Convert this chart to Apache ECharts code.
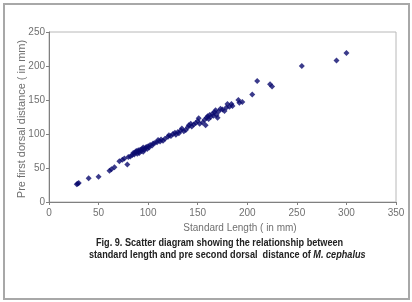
<!DOCTYPE html>
<html><head><meta charset="utf-8">
<script src="https://cdn.jsdelivr.net/npm/echarts@6/dist/echarts.min.js"></script>
<style>html,body{margin:0;padding:0;background:#fff}#c{width:412px;height:302px}</style>
</head><body><div id="c"></div>
<script>
var standardLength = [28,29,30,40,50,61,63,66,71,74,76,79,80,82,84,85,86,87,88,89,90,90,91,92,93,94,95,95,96,97,98,99,100,101,102,104,105,107,109,110,112,113,115,117,120,121,123,125,127,128,130,131,133,134,136,138,140,141,143,144,146,148,150,151,152,155,157,158,159,160,161,162,163,165,166,167,168,169,170,171,173,175,177,179,180,182,184,185,191,192,195,205,210,223,225,255,290,300];
var preDorsal = [26,27,28,35,37,46,48,51,60,62,64,55,66,67,69,72,70,73,75,71,74,76,72,77,75,78,74,80,77,79,81,78,82,80,84,83,86,87,88,91,89,92,90,93,96,98,97,100,102,99,103,101,105,108,104,106,110,113,115,111,114,116,119,123,115,117,121,113,124,126,122,128,125,130,127,132,135,128,124,133,137,136,134,139,144,140,144,141,150,146,147,158,178,173,170,200,208,219];
var xTicks = [0,50,100,150,200,250,300,350];
var yTicks = [0,50,100,150,200,250];

var pts = standardLength.map(function(v,i){return [v, preDorsal[i]];});
var narrow = '"Liberation Sans Narrow","Arial Narrow","Liberation Sans",sans-serif';
var chart = echarts.init(document.getElementById('c'), null, {renderer:'canvas'});
chart.setOption({
  animation:false,
  backgroundColor:'#fff',
  grid:{left:49,right:16,top:32,bottom:100,show:true,borderColor:'#b8b8b8',borderWidth:1,backgroundColor:'transparent'},
  xAxis:{type:'value',min:xTicks[0],max:xTicks[xTicks.length-1],interval:50,
    axisLine:{show:true,lineStyle:{color:'#808080',width:1}},
    axisTick:{show:true,inside:false,length:3,lineStyle:{color:'#808080'}},
    splitLine:{show:false},
    axisLabel:{color:'#707070',fontFamily:narrow,fontSize:10,margin:6}},
  yAxis:{type:'value',min:yTicks[0],max:yTicks[yTicks.length-1],interval:50,
    axisLine:{show:true,lineStyle:{color:'#808080',width:1}},
    axisTick:{show:true,inside:false,length:3,lineStyle:{color:'#808080'}},
    splitLine:{show:false},
    axisLabel:{color:'#707070',fontFamily:narrow,fontSize:10,margin:4}},
  graphic:[
    {type:'rect',shape:{x:4,y:4,width:405,height:295},style:{fill:'none',stroke:'#a8a8a8',lineWidth:2},silent:true,z:-1},
    {type:'text',x:22,y:119,rotation:Math.PI/2,style:{text:'Pre first dorsal distance ( in mm)',fill:'#707070',font:'11px '+narrow,textAlign:'center',textVerticalAlign:'middle'}},
    {type:'text',x:240,y:228,style:{text:'Standard Length ( in mm)',fill:'#707070',font:'10px '+narrow,textAlign:'center',textVerticalAlign:'middle'}},
    {type:'text',x:96,y:243,scaleX:0.87,style:{text:'Fig. 9. Scatter diagram showing the relationship between',fill:'#222',font:'bold 10.5px '+narrow,textAlign:'left',textVerticalAlign:'middle'}},
    {type:'text',x:89,y:255,scaleX:0.87,style:{text:'standard length and pre second dorsal  distance of {i|M. cephalus}',fill:'#222',font:'bold 10.5px '+narrow,textAlign:'left',textVerticalAlign:'middle',
      rich:{i:{fontStyle:'italic',fontWeight:'bold',fontSize:10.5,fontFamily:narrow,fill:'#222'}}}}
  ],
  series:[{type:'scatter',data:pts,symbol:'diamond',symbolSize:6,itemStyle:{color:'#0a0a6e'}}]
});
</script></body></html>
